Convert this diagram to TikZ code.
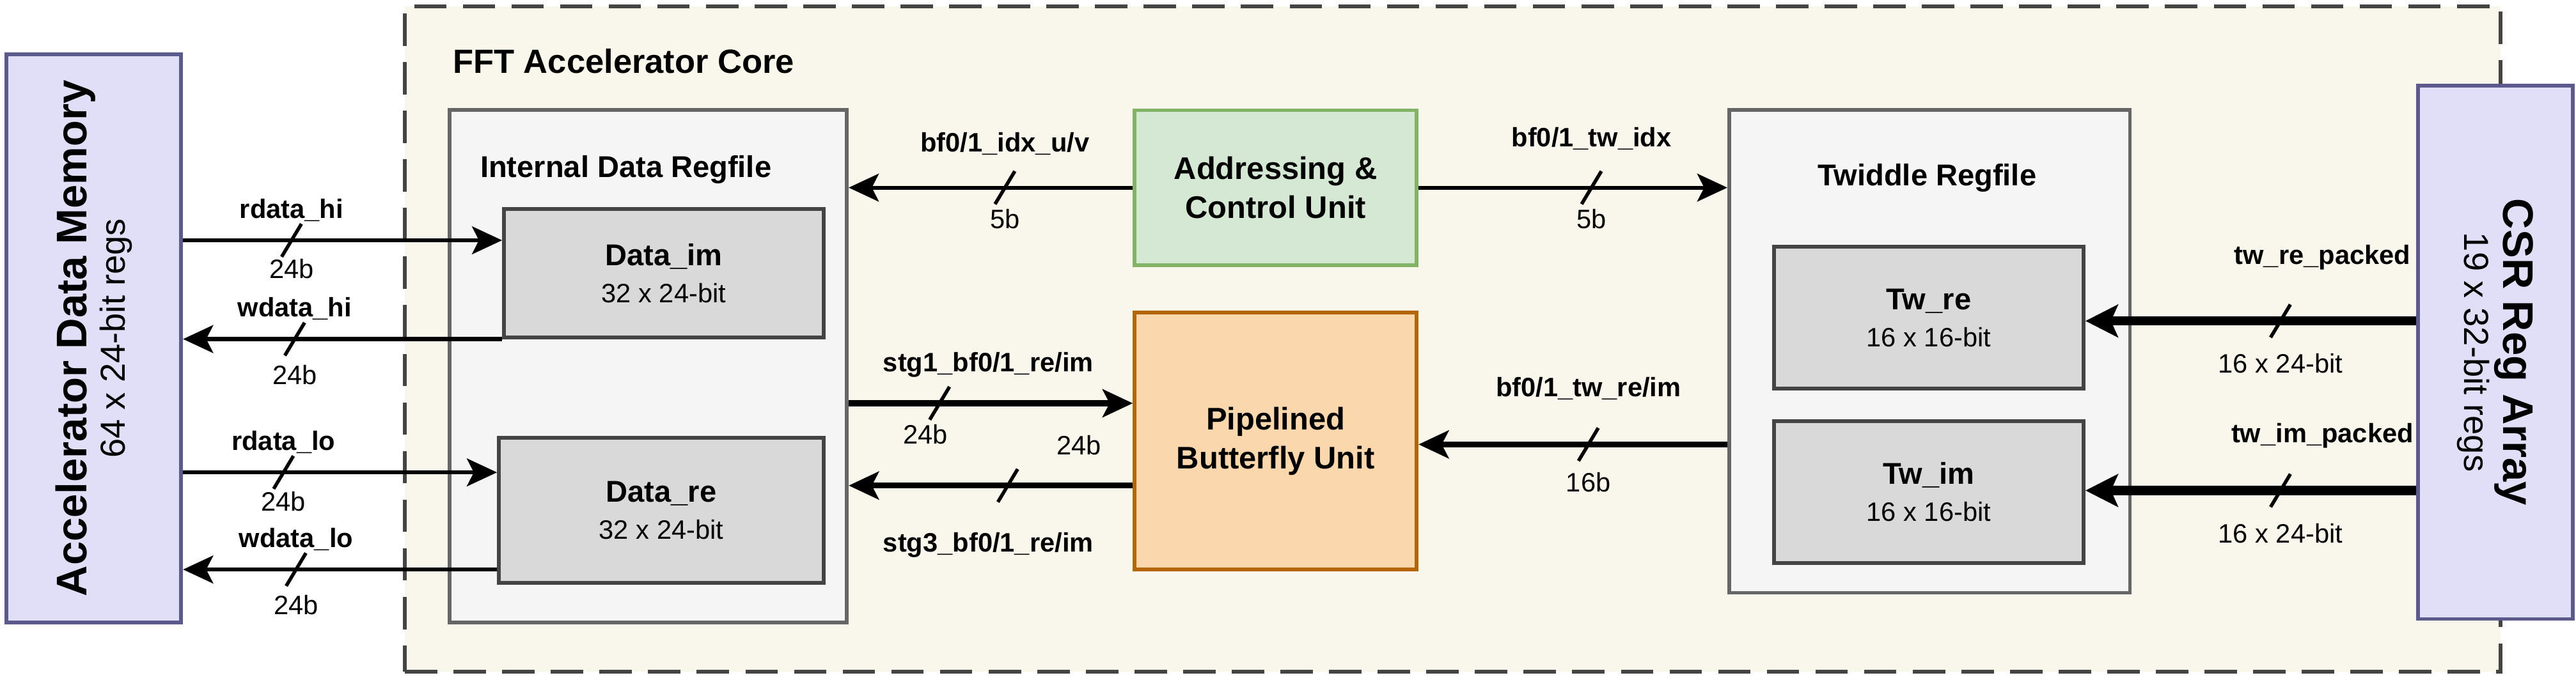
\documentclass[tikz,border=0pt]{standalone}
\usepackage{fontspec}
\setmainfont{Liberation Sans}
\usetikzlibrary{arrows.meta}
\definecolor{memfill}{HTML}{E1DFF7}
\definecolor{memline}{HTML}{5C5A8C}
\definecolor{corefill}{HTML}{F9F7EB}
\definecolor{rffill}{HTML}{F5F5F5}
\definecolor{rfline}{HTML}{666666}
\definecolor{regfill}{HTML}{D9D9D9}
\definecolor{regline}{HTML}{444444}
\definecolor{acufill}{HTML}{D5E8D4}
\definecolor{aculine}{HTML}{82B366}
\definecolor{pbufill}{HTML}{FAD7AC}
\definecolor{pbuline}{HTML}{B46504}
\tikzset{
  blk/.style={draw, line width=1.6pt, align=center, inner sep=0pt},
  reg/.style={blk, fill=regfill, draw=regline, font=\fontsize{13}{15}\selectfont},
  lbl/.style={font=\bfseries\fontsize{11.5}{13}\selectfont, inner sep=2pt},
  wid/.style={font=\fontsize{11.5}{13}\selectfont, inner sep=2pt},
  bus/.style={-{Stealth[length=13pt,width=12pt,inset=3pt]}, line width=1.7pt},
  busw/.style={bus, line width=2.6pt},
  busx/.style={-{Stealth[length=14pt,width=14pt,inset=3pt]}, line width=4pt},
  slash/.pic={\draw[line width=1.5pt] (-6,10) -- (6,-10);}
}
\begin{document}
\begin{tikzpicture}[x=0.025cm,y=-0.025cm]
  \useasboundingbox (0,0) rectangle (1564,413);

  % core
  \node [blk, fill=corefill, draw=regline, dash pattern=on 14pt off 7pt, minimum width=31.8cm, minimum height=10.1cm] (core) at (882,206) {};
  \node [anchor=west, font=\bfseries\fontsize{14.5}{16}\selectfont] (coret) at (270,37) {FFT Accelerator Core};

  % outer blocks
  \node [blk, fill=memfill, draw=memline, minimum width=2.65cm, minimum height=8.63cm] (mem) at (57,205.5) {};
  \node [rotate=90, align=center] at (mem.center) {{\bfseries\fontsize{18.5}{22}\selectfont Accelerator Data Memory}\\[1pt]{\fontsize{15}{18}\selectfont 64 x 24-bit regs}};
  \node [blk, fill=memfill, draw=memline, minimum width=2.35cm, minimum height=8.1cm] (csr) at (1515,214) {};
  \node [rotate=-90, align=center] at (csr.center) {{\bfseries\fontsize{18.5}{22}\selectfont CSR Reg Array}\\[1pt]{\fontsize{15}{18}\selectfont 19 x 32-bit regs}};

  % register files
  \node [blk, fill=rffill, draw=rfline, minimum width=6.03cm, minimum height=7.78cm] (idr) at (393.5,222.5) {};
  \node [font=\bfseries\fontsize{13}{15}\selectfont] (idrt) at (380,103) {Internal Data Regfile};
  \node [reg, minimum width=4.85cm, minimum height=1.95cm] (dim) at (403,166) {\textbf{Data\_im}\\[1pt]{\fontsize{11.5}{13}\selectfont 32 x 24-bit}};
  \node [reg, minimum width=4.93cm, minimum height=2.2cm] (dre) at (401.5,310) {\textbf{Data\_re}\\[1pt]{\fontsize{11.5}{13}\selectfont 32 x 24-bit}};

  \node [blk, fill=rffill, draw=rfline, minimum width=6.08cm, minimum height=7.33cm] (twr) at (1171.5,213.5) {};
  \node [font=\bfseries\fontsize{13}{15}\selectfont] (twrt) at (1170,108) {Twiddle Regfile};
  \node [reg, minimum width=4.7cm, minimum height=2.15cm] (twre) at (1171,193) {\textbf{Tw\_re}\\[1pt]{\fontsize{11.5}{13}\selectfont 16 x 16-bit}};
  \node [reg, minimum width=4.7cm, minimum height=2.15cm] (twim) at (1171,299) {\textbf{Tw\_im}\\[1pt]{\fontsize{11.5}{13}\selectfont 16 x 16-bit}};

  % units
  \node [blk, fill=acufill, draw=aculine, minimum width=4.28cm, minimum height=2.35cm, font=\bfseries\fontsize{13.5}{17}\selectfont] (acu) at (774.5,114) {Addressing \&\\Control Unit};
  \node [blk, fill=pbufill, draw=pbuline, minimum width=4.28cm, minimum height=3.9cm, font=\bfseries\fontsize{13.5}{17}\selectfont] (pbu) at (774.5,268) {Pipelined\\Butterfly Unit};

  % memory buses
  \draw [bus] (mem.east |- 0,146) -- coordinate[pos=0.34] (s1) (dim.west |- 0,146);
  \pic at (s1) {slash};
  \node [lbl, above=6pt] at (s1) {rdata\_hi};
  \node [wid, below=6pt] at (s1) {24b};
  \draw [bus] (dim.west |- 0,206) -- coordinate[pos=0.65] (s2) (mem.east |- 0,206);
  \pic at (s2) {slash};
  \node [lbl, above=6pt] at (s2) {wdata\_hi};
  \node [wid, below=9pt] at (s2) {24b};
  \draw [bus] (mem.east |- 0,287) -- coordinate[pos=0.32] (s3) (dre.west |- 0,287);
  \pic at (s3) {slash};
  \node [lbl, above=6pt] at (s3) {rdata\_lo};
  \node [wid, below=6pt] at (s3) {24b};
  \draw [bus] (dre.west |- 0,346) -- coordinate[pos=0.64] (s4) (mem.east |- 0,346);
  \pic at (s4) {slash};
  \node [lbl, above=6pt] at (s4) {wdata\_lo};
  \node [wid, below=9pt] at (s4) {24b};

  % control buses
  \draw [bus] (acu.west |- 0,114) -- coordinate[pos=0.45] (s5) (idr.east |- 0,114);
  \pic at (s5) {slash};
  \node [lbl, above=12pt] at (s5) {bf0/1\_idx\_u/v};
  \node [wid, below=7pt] at (s5) {5b};
  \draw [bus] (acu.east |- 0,114) -- coordinate[pos=0.56] (s6) (twr.west |- 0,114);
  \pic at (s6) {slash};
  \node [lbl, above=14pt] at (s6) {bf0/1\_tw\_idx};
  \node [wid, below=7pt] at (s6) {5b};

  % data buses
  \draw [busw] (idr.east |- 0,245) -- coordinate[pos=0.32] (s7) (pbu.west |- 0,245);
  \pic at (s7) {slash};
  \node [lbl, above=9pt] at (s7 -| 600,0) {stg1\_bf0/1\_re/im};
  \node [wid, below=7pt] at (s7 -| 562,0) {24b};
  \draw [busw] (pbu.west |- 0,295) -- coordinate[pos=0.44] (s8) (idr.east |- 0,295);
  \pic at (s8) {slash};
  \node [lbl, below=18pt] at (s8 -| 600,0) {stg3\_bf0/1\_re/im};
  \node [wid, above=11pt] at (s8 -| 655,0) {24b};
  \draw [busw] (twr.west |- 0,270) -- coordinate[pos=0.45] (s9) (pbu.east |- 0,270);
  \pic at (s9) {slash};
  \node [lbl, above=17pt] at (s9) {bf0/1\_tw\_re/im};
  \node [wid, below=10pt] at (s9) {16b};

  % twiddle buses
  \draw [busx] (csr.west |- 0,195) -- coordinate[pos=0.41] (s10) (twre.east |- 0,195);
  \pic at (s10) {slash};
  \node [lbl, above=20pt] at (s10 -| 1410,0) {tw\_re\_packed};
  \node [wid, below=12pt] at (s10) {16 x 24-bit};
  \draw [busx] (csr.west |- 0,298) -- coordinate[pos=0.41] (s11) (twim.east |- 0,298);
  \pic at (s11) {slash};
  \node [lbl, above=16pt] at (s11 -| 1410,0) {tw\_im\_packed};
  \node [wid, below=12pt] at (s11) {16 x 24-bit};
\end{tikzpicture}
\end{document}
